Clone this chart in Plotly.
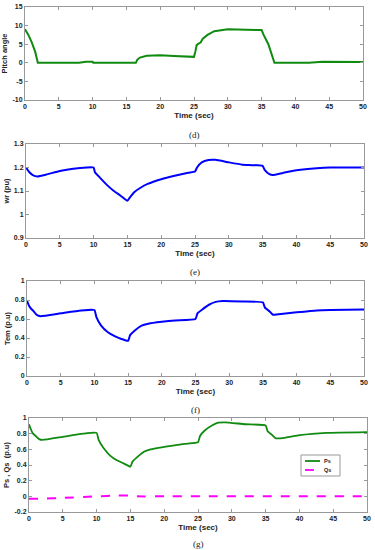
import plotly.graph_objects as go

# ---- data ----
t_pitch = [0, 0.5, 1, 1.5, 1.9, 8, 9, 10, 10.1, 16.4, 16.6, 17, 18, 19, 20, 22, 24, 25, 25.2, 25.4, 26, 26.3, 27, 28, 30, 32, 35, 35.3, 36, 36.9, 42, 44, 50]
pitch = [9, 7.5, 5.5, 3, 0, 0, 0.3, 0.3, 0, 0, 0.8, 1.4, 1.9, 2.0, 2.0, 1.8, 1.6, 1.6, 3, 4.8, 5.5, 6.5, 7.5, 8.5, 9.0, 9.0, 8.8, 7.5, 5, 0, 0, 0.3, 0.2]

t_wr = [0, 0.5, 1, 1.7, 3, 5, 7, 9, 10, 10.2, 11, 12, 13, 14, 15, 15.3, 16, 17, 18, 20, 22, 24, 25, 25.3, 26, 27, 28, 30, 32, 35, 35.3, 36, 36.5, 38, 40, 43, 45, 50]
wr = [1.2, 1.18, 1.168, 1.162, 1.17, 1.185, 1.195, 1.2, 1.2, 1.18, 1.155, 1.125, 1.1, 1.08, 1.058, 1.07, 1.095, 1.115, 1.13, 1.15, 1.165, 1.178, 1.183, 1.2, 1.222, 1.232, 1.233, 1.222, 1.212, 1.207, 1.19, 1.172, 1.168, 1.177, 1.188, 1.197, 1.2, 1.2]

t_tem = [0, 0.3, 0.6, 1, 1.5, 2, 5, 8, 10, 10.3, 11, 12, 13, 14, 15, 15.3, 16, 17, 18, 20, 22, 25, 25.3, 26, 27, 28, 29, 32, 35, 35.3, 36, 36.5, 38, 40, 43, 45, 50]
tem = [0.79, 0.74, 0.71, 0.68, 0.64, 0.63, 0.66, 0.69, 0.695, 0.62, 0.53, 0.46, 0.42, 0.39, 0.37, 0.43, 0.48, 0.53, 0.55, 0.57, 0.585, 0.6, 0.66, 0.7, 0.75, 0.78, 0.79, 0.785, 0.775, 0.72, 0.68, 0.645, 0.655, 0.67, 0.69, 0.695, 0.7]

t_ps = [0, 0.3, 0.6, 1, 1.5, 2, 5, 8, 10, 10.3, 11, 12, 13, 14, 15, 15.3, 16, 17, 18, 20, 23, 25, 25.3, 26, 27, 28, 29, 32, 35, 35.3, 36, 36.5, 38, 40, 44, 50]
ps = [0.92, 0.85, 0.8, 0.77, 0.73, 0.72, 0.76, 0.8, 0.81, 0.72, 0.62, 0.52, 0.46, 0.42, 0.38, 0.44, 0.5, 0.57, 0.6, 0.63, 0.67, 0.69, 0.77, 0.84, 0.9, 0.94, 0.945, 0.92, 0.905, 0.83, 0.78, 0.74, 0.75, 0.78, 0.81, 0.82]

t_qs = [0, 2, 5, 10, 13, 15, 16, 20, 50]
qs = [-0.03, -0.03, -0.02, 0, 0.01, 0.01, 0, 0, 0]

x_ticks = [0, 5, 10, 15, 20, 25, 30, 35, 40, 45, 50]
ytick_d = [-10, -5, 0, 5, 10, 15]
ytick_e = [0.9, 1, 1.1, 1.2, 1.3]
ytick_f = [0, 0.2, 0.4, 0.6, 0.8, 1]
ytick_g = [-0.2, 0, 0.2, 0.4, 0.6, 0.8, 1]
legend_names = ["Ps", "Qs"]

GREEN = "#108a10"
BLUE = "#0000ff"
MAG = "#ff00ff"

fig = go.Figure()
fig.add_trace(go.Scatter(x=t_pitch, y=pitch, mode="lines", line=dict(color=GREEN, width=2), xaxis="x", yaxis="y", showlegend=False))
fig.add_trace(go.Scatter(x=t_wr, y=wr, mode="lines", line=dict(color=BLUE, width=2, shape="spline", smoothing=0.4), xaxis="x2", yaxis="y2", showlegend=False))
fig.add_trace(go.Scatter(x=t_tem, y=tem, mode="lines", line=dict(color=BLUE, width=2, shape="spline", smoothing=0.4), xaxis="x3", yaxis="y3", showlegend=False))
fig.add_trace(go.Scatter(x=t_ps, y=ps, mode="lines", name=legend_names[0], line=dict(color=GREEN, width=1.8, shape="spline", smoothing=0.4), xaxis="x4", yaxis="y4", showlegend=False))
fig.add_trace(go.Scatter(x=t_qs, y=qs, mode="lines", name=legend_names[1], line=dict(color=MAG, width=2, dash="dash", shape="spline", smoothing=0.4), xaxis="x4", yaxis="y4", showlegend=False))

H = 550.0
W = 375.0
panels = [
    (25, 363, 7, 100, "<b>Pitch angle</b>", [-10, 15], ytick_d, "(d)", 135),
    (26, 364, 144, 238, "<b>wr (pu)</b>", [0.9, 1.3], ytick_e, "(e)", 272),
    (27, 364, 281, 376, "<b>Tem (p.u)</b>", [0, 1], ytick_f, "(f)", 410),
    (29, 367, 418, 512, "<b>Ps , Qs  (p.u)</b>", [-0.2, 1], ytick_g, "(g)", 544),
]

axfont = dict(family="Liberation Sans, Arial", size=7, color="#222")
annotations = []
shapes = []
for i, (xl, xr, yt, yb, ylab, yr, yt_vals, cap, capy) in enumerate(panels):
    n = "" if i == 0 else str(i + 1)
    common = dict(showline=True, mirror="ticks", linecolor="#999", linewidth=1,
                  ticks="inside", ticklen=3, tickcolor="#999", showgrid=False,
                  zeroline=False, tickfont=axfont, automargin=False)
    fig.layout["xaxis" + n] = dict(domain=[xl / W, xr / W], anchor="y" + n, range=[0, 50],
                                   tickvals=x_ticks, ticktext=[f"<b>{v}</b>" for v in x_ticks],
                                   title=dict(text="<b>Time (sec)</b>", font=dict(family="Liberation Sans, Arial", size=8, color="#222"), standoff=2),
                                   **common)
    fig.layout["yaxis" + n] = dict(domain=[1 - yb / H, 1 - yt / H], anchor="x" + n, range=yr,
                                   tickvals=yt_vals, ticktext=[f"<b>{v:g}</b>" for v in yt_vals],
                                   title=dict(text=ylab, font=dict(family="Liberation Sans, Arial", size=7.5, color="#222"), standoff=3),
                                   **common)
    annotations.append(dict(text=cap, x=(xl + xr) / 2 / W, y=1 - capy / H, xref="paper", yref="paper",
                            showarrow=False, xanchor="center", yanchor="middle",
                            font=dict(family="Liberation Serif, Times New Roman", size=9, color="#222")))

# compact MATLAB-style legend box
lx0, lx1, ly0, ly1 = 301, 340, 455, 476
shapes.append(dict(type="rect", xref="paper", yref="paper", x0=lx0 / W, x1=lx1 / W, y0=1 - ly1 / H, y1=1 - ly0 / H,
                   line=dict(color="#999", width=1), fillcolor="white", layer="above"))
for k, (nm, col, dash) in enumerate(zip(legend_names, [GREEN, MAG], ["solid", "dash"])):
    yy = 1 - (ly0 + 6 + k * 9) / H
    shapes.append(dict(type="line", xref="paper", yref="paper", x0=(lx0 + 4) / W, x1=(lx0 + 19) / W, y0=yy, y1=yy,
                       line=dict(color=col, width=1.8, dash=dash), layer="above"))
    annotations.append(dict(text=f"<b>{nm}</b>", x=(lx0 + 21) / W, y=yy, xref="paper", yref="paper", showarrow=False,
                            xanchor="left", yanchor="middle",
                            font=dict(family="Liberation Sans, Arial", size=5.5, color="#222")))

fig.update_layout(
    width=375, height=550,
    margin=dict(l=0, r=0, t=0, b=0),
    paper_bgcolor="white", plot_bgcolor="white",
    annotations=annotations, shapes=shapes,
    showlegend=False,
)

fig.write_html("out.html", config={"displayModeBar": False},
               post_script="document.body.style.margin='0px';document.body.style.overflow='hidden';")
